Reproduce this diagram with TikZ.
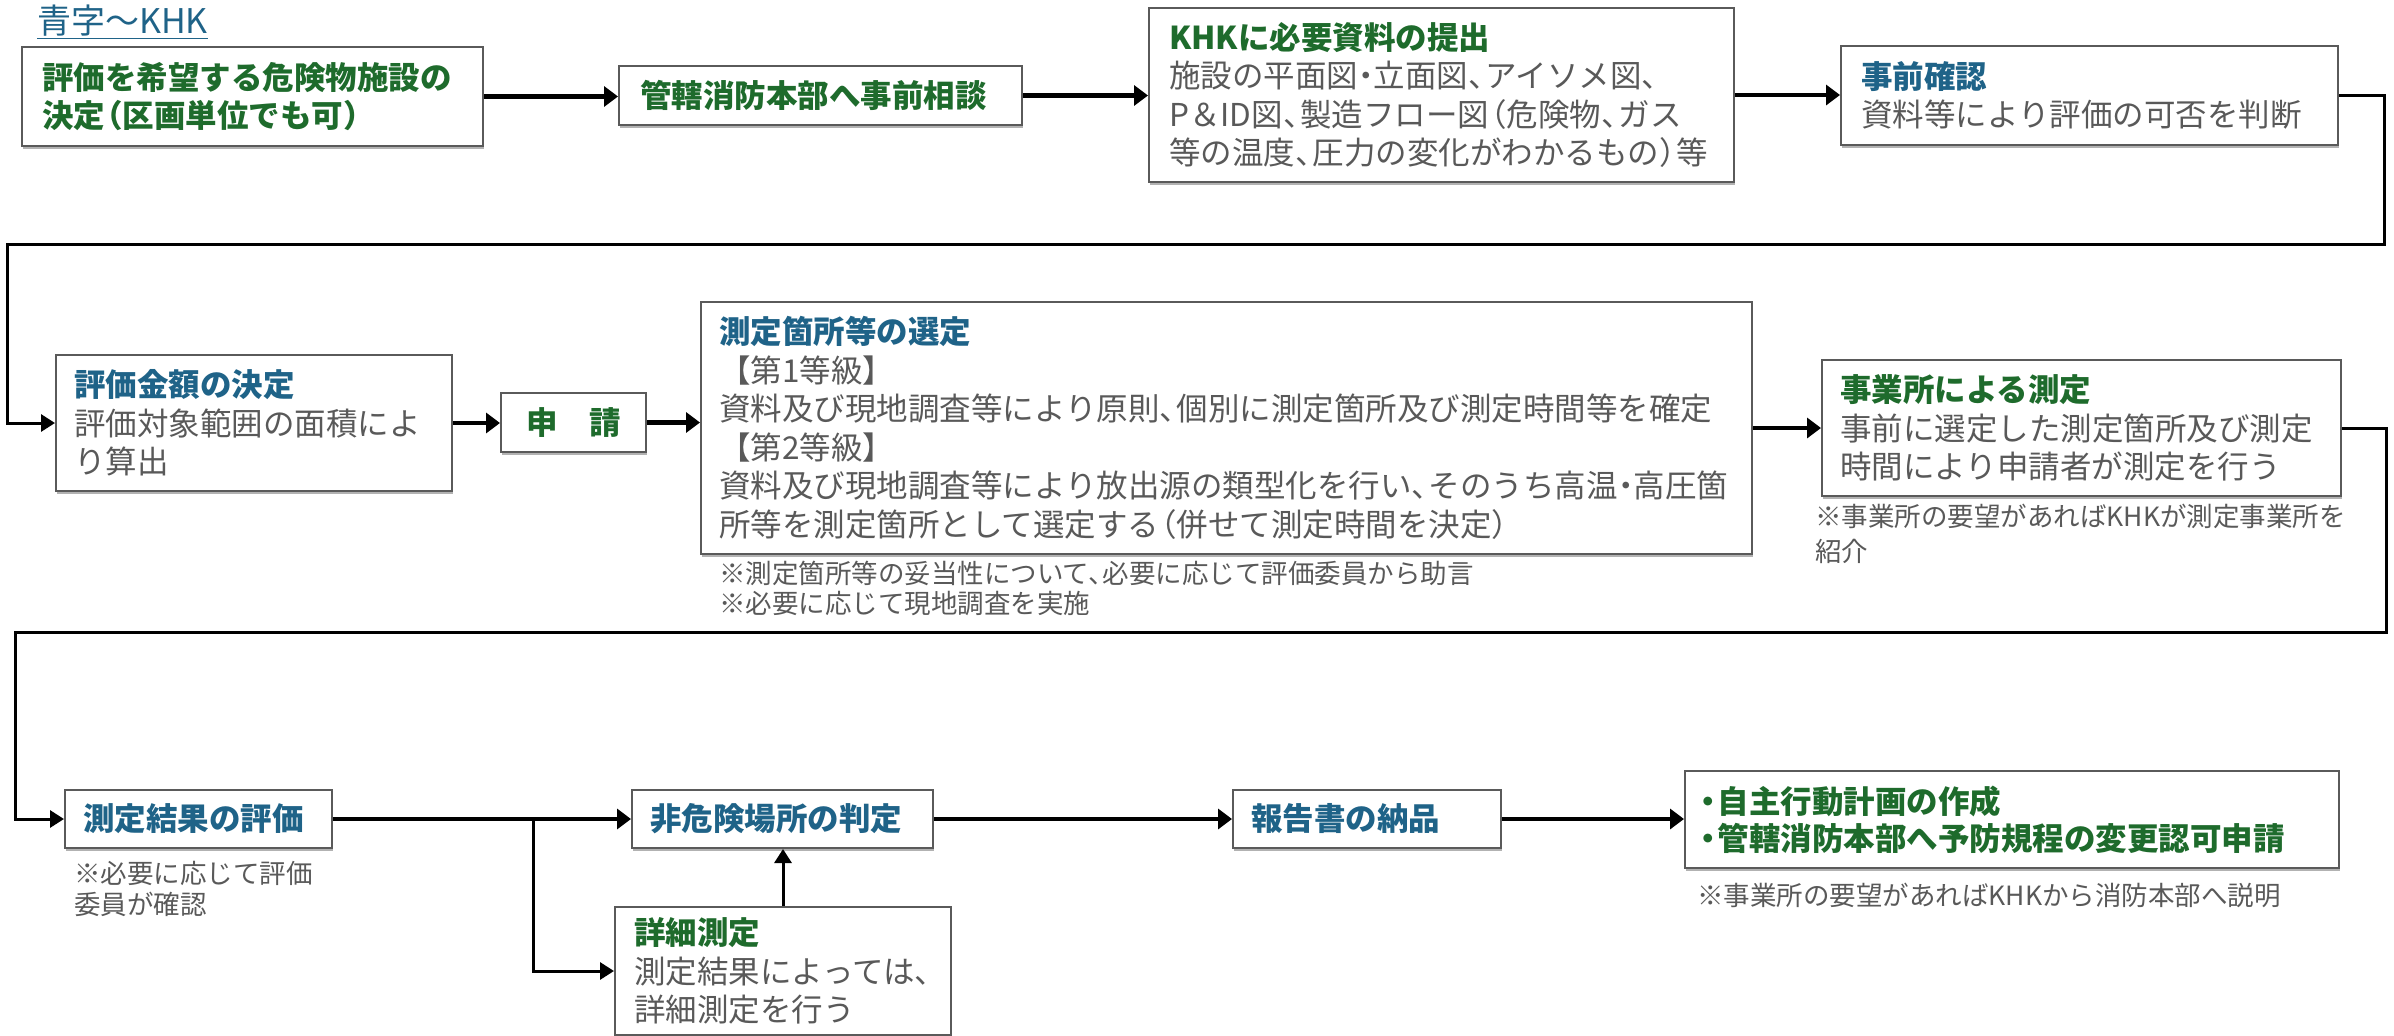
\documentclass[tikz,border=0pt]{standalone}
\usepackage{fontspec}
\setmainfont{Noto Sans CJK JP}
\usetikzlibrary{arrows.meta,shadows}
\definecolor{tgreen}{HTML}{1E6B2C}
\definecolor{tblue}{HTML}{1F6388}
\definecolor{tgray}{HTML}{595959}
\definecolor{bgray}{HTML}{5A5A5A}
\newcommand\GTitle[1]{{\bfseries\color{tgreen}#1}}
\newcommand\BTitle[1]{{\bfseries\color{tblue}#1}}
\newcommand\tou{、\kern-0.45em}
\newcommand\nak{\kern-0.25em・\kern-0.25em}
\newcommand\lpar{\kern-0.45em（}
\newcommand\rpar{）\kern-0.45em}
\newcommand\bul{\kern-0.3em・\kern-0.2em}
\begin{document}
\begin{tikzpicture}[x=1pt,y=-1pt,
  box/.style={draw=bgray, line width=2pt, fill=white, anchor=north west, inner sep=0pt,
    drop shadow={shadow xshift=1pt, shadow yshift=-2.5pt, fill=black!30, opacity=1}},
  txt/.style={anchor=west, inner sep=0pt, align=left, text=tgray, font=\fontsize{31.5}{38.5}\selectfont},
  gtxt/.style={txt, text=tgreen, font=\bfseries\fontsize{31.5}{38.5}\selectfont},
  btxt/.style={txt, text=tblue, font=\bfseries\fontsize{31.5}{38.5}\selectfont},
  note/.style={anchor=north west, inner sep=0pt, align=left, text=tgray, font=\fontsize{26.5}{31}\selectfont},
  arr/.style={line width=4.5pt, -{Triangle[length=14pt,width=20pt]}},
  thin/.style={line width=3pt, -{Triangle[length=14pt,width=17pt]}}
]
\fill[white] (0,0) rectangle (2394,1036);
\useasboundingbox (0,0) rectangle (2394,1036);

% legend
\node[anchor=north west, inner sep=0pt, text=tblue, font=\fontsize{34}{40}\selectfont] (lg) at (37,5) {\underline{青字～KHK}};

% row 1
\node[box, minimum width=461pt, minimum height=99pt] (b1) at (21,46) {};
\node[gtxt] (t1) at ([xshift=21pt]b1.west) {評価を希望する危険物施設の\\決定\lpar 区画単位でも可\rpar};

\node[box, minimum width=403pt, minimum height=59pt] (b2) at (618,65) {};
\node[gtxt] (t2) at ([xshift=22pt]b2.west) {管轄消防本部へ事前相談};

\node[box, minimum width=585pt, minimum height=174pt] (b3) at (1148,7) {};
\node[txt] (t3) at ([xshift=21pt]b3.west) {\GTitle{KHKに必要資料の提出}\\施設の平面図\nak 立面図\tou アイソメ図\tou\\P＆ID図\tou 製造フロー図\lpar 危険物\tou ガス\\等の温度\tou 圧力の変化がわかるもの\rpar 等};

\node[box, minimum width=497pt, minimum height=99pt] (b4) at (1840,45) {};
\node[txt] (t4) at ([xshift=21pt]b4.west) {\BTitle{事前確認}\\資料等により評価の可否を判断};

% row 2
\node[box, minimum width=396pt, minimum height=136pt] (b5) at (55,354) {};
\node[txt] (t5) at ([xshift=19pt]b5.west) {\BTitle{評価金額の決定}\\評価対象範囲の面積によ\\り算出};

\node[box, minimum width=145pt, minimum height=59pt] (b6) at (500,392) {};
\node[gtxt, anchor=center] (t6) at (b6.center) {申　請};

\node[box, minimum width=1051pt, minimum height=252pt] (b7) at (700,301) {};
\node[txt] (t7) at ([xshift=19pt]b7.west) {\BTitle{測定箇所等の選定}\\【第1等級】\\資料及び現地調査等により原則\tou 個別に測定箇所及び測定時間等を確定\\【第2等級】\\資料及び現地調査等により放出源の類型化を行い\tou そのうち高温\nak 高圧箇\\所等を測定箇所として選定する\lpar 併せて測定時間を決定\rpar};
\node[note] (n1) at (719,561) {※測定箇所等の妥当性について\tou 必要に応じて評価委員から助言\\[-1pt]※必要に応じて現地調査を実施};

\node[box, minimum width=519pt, minimum height=136pt] (b8) at (1821,359) {};
\node[txt] (t8) at ([xshift=19pt]b8.west) {\GTitle{事業所による測定}\\事前に選定した測定箇所及び測定\\時間により申請者が測定を行う};
\node[note] (n2) at (1815,504) {※事業所の要望があればKHKが測定事業所を\\[4pt]紹介};

% row 3
\node[box, minimum width=267pt, minimum height=58pt] (b9) at (64,789) {};
\node[btxt] (t9) at ([xshift=19pt]b9.west) {測定結果の評価};
\node[note] (n3) at (74,861) {※必要に応じて評価\\委員が確認};

\node[box, minimum width=301pt, minimum height=58pt] (b10) at (631,789) {};
\node[btxt] (t10) at ([xshift=19pt]b10.west) {非危険場所の判定};

\node[box, minimum width=336pt, minimum height=128pt] (b11) at (614,906) {};
\node[txt] (t11) at ([xshift=20pt]b11.west) {\GTitle{詳細測定}\\測定結果によっては\tou\\詳細測定を行う};

\node[box, minimum width=268pt, minimum height=58pt] (b12) at (1232,789) {};
\node[btxt] (t12) at ([xshift=19pt]b12.west) {報告書の納品};

\node[box, minimum width=654pt, minimum height=97pt] (b13) at (1684,770) {};
\node[gtxt, font=\bfseries\fontsize{31.5}{37}\selectfont] (t13) at ([xshift=18pt]b13.west) {\bul 自主行動計画の作成\\\bul 管轄消防本部へ予防規程の変更認可申請};
\node[note] (n4) at (1697,883) {※事業所の要望があればKHKから消防本部へ説明};

% connectors
\draw[arr] (b1.east) -- (b1.east -| b2.west);
\draw[arr] (b2.east) -- (b2.east -| b3.west);
\draw[arr] (b3.east) -- (b3.east -| b4.west);
\coordinate (r1) at (2384,244);
\coordinate (l1) at (7,244);
\draw[thin] (b4.east) -| (r1) -- (l1) |- (b5.west);

\draw[arr] (b5.east) -- (b5.east -| b6.west);
\draw[arr] (b6.east) -- (b6.east -| b7.west);
\draw[arr] (b7.east) -- (b7.east -| b8.west);
\coordinate (r2) at (2386,632);
\coordinate (l2) at (15,632);
\draw[thin] (b8.east) -| (r2) -- (l2) |- (b9.west);

\draw[arr] (b9.east) -- (b10.west);
\coordinate (br) at (533,818);
\draw[thin] (br) |- (b11.west);
\draw[thin] (b11.north) -- (b11.north |- b10.south);
\draw[arr] (b10.east) -- (b10.east -| b12.west);
\draw[arr] (b12.east) -- (b12.east -| b13.west);
\end{tikzpicture}
\end{document}
